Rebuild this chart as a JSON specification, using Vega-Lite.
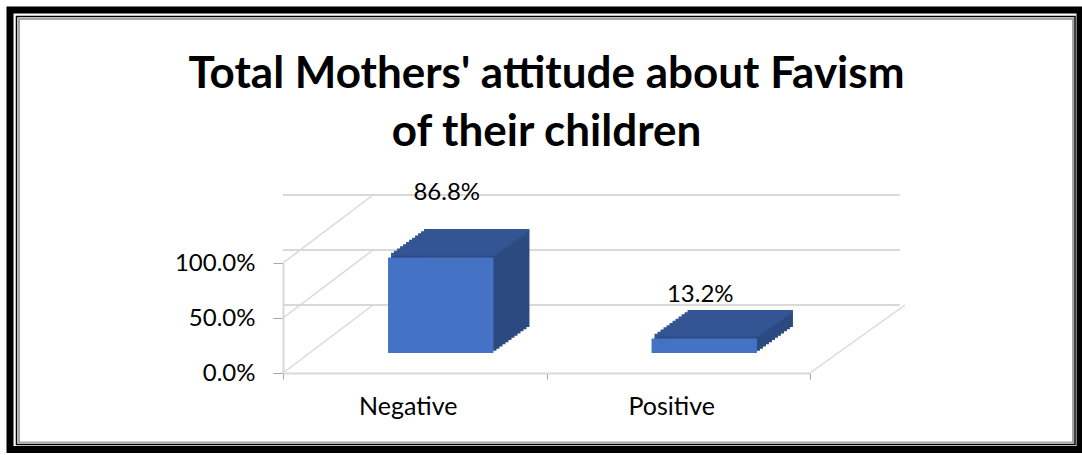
{
  "$schema": "https://vega.github.io/schema/vega-lite/v6.json",
  "width": 527,
  "height": 110,
  "autosize": "none",
  "padding": {"left": 283, "top": 263, "right": 272, "bottom": 82},
  "background": "white",
  "config": {"view": {"stroke": null}, "font": "Lato"},
  "title": {
    "text": ["Total Mothers' attitude about Favism", "of their children"],
    "fontSize": 44,
    "fontWeight": "bold",
    "font": "Lato",
    "color": "black",
    "lineHeight": 58,
    "anchor": "middle",
    "frame": "group",
    "offset": -148
  },
  "datasets": {
    "bars": [
      {"attitude": "Negative", "pct": 0.868},
      {"attitude": "Positive", "pct": 0.132}
    ],
    "ticks": [{"tick": 0}, {"tick": 0.5}, {"tick": 1}],
    "one": [{}]
  },
  "data": {"name": "bars"},
  "resolve": {"scale": {"x": "independent"}, "axis": {"x": "independent"}},
  "layer": [
    {
      "data": {"name": "one"},
      "mark": {"type": "rect", "filled": false, "stroke": "black", "strokeWidth": 7, "xOffset": -273, "x2Offset": 270, "yOffset": 76.5, "y2Offset": -253},
      "encoding": {
        "x": {"datum": 0, "type": "quantitative", "scale": {"domain": [0, 1], "nice": false}, "axis": null},
        "x2": {"datum": 1},
        "y": {"datum": 0, "type": "quantitative", "scale": {"domain": [0, 1], "nice": false}},
        "y2": {"datum": 1}
      }
    },
    {
      "data": {"name": "one"},
      "mark": {"type": "rect", "filled": false, "stroke": "black", "strokeWidth": 1.5, "xOffset": -266.5, "x2Offset": 265, "yOffset": 71.5, "y2Offset": -246.5},
      "encoding": {
        "x": {"datum": 0, "type": "quantitative", "scale": {"domain": [0, 1], "nice": false}, "axis": null},
        "x2": {"datum": 1},
        "y": {"datum": 0, "type": "quantitative"},
        "y2": {"datum": 1}
      }
    },
    {
      "data": {"name": "one"},
      "mark": {"type": "rect", "filled": false, "stroke": "#a6a6a6", "strokeWidth": 2, "xOffset": -264, "x2Offset": 263, "yOffset": 69.5, "y2Offset": -244},
      "encoding": {
        "x": {"datum": 0, "type": "quantitative", "scale": {"domain": [0, 1], "nice": false}, "axis": null},
        "x2": {"datum": 1},
        "y": {"datum": 0, "type": "quantitative"},
        "y2": {"datum": 1}
      }
    },
    {
      "data": {"name": "ticks"},
      "mark": {"type": "rule", "color": "#d9d9d9", "strokeWidth": 2, "xOffset": 90, "x2Offset": 95, "yOffset": -68},
      "encoding": {
        "y": {"field": "tick", "type": "quantitative"}
      }
    },
    {
      "data": {"name": "ticks"},
      "mark": {"type": "rule", "color": "#d9d9d9", "strokeWidth": 1.5, "x2Offset": 90, "y2Offset": -68},
      "encoding": {
        "x": {"datum": 0, "type": "quantitative", "scale": {"domain": [0, 1], "nice": false}, "axis": null},
        "x2": {"datum": 0},
        "y": {"field": "tick", "type": "quantitative"},
        "y2": {"field": "tick"}
      }
    },
    {
      "data": {"name": "one"},
      "mark": {"type": "rule", "color": "#d9d9d9", "strokeWidth": 1.5, "x2Offset": 95, "y2Offset": -68},
      "encoding": {
        "x": {"datum": 1, "type": "quantitative", "scale": {"domain": [0, 1], "nice": false}, "axis": null},
        "x2": {"datum": 1},
        "y": {"datum": 0, "type": "quantitative"},
        "y2": {"datum": 0}
      }
    },
    {
      "layer": [
        {"mark": {"type": "bar", "color": "#2B4A80", "width": {"band": 0.4}, "xOffset": 29, "yOffset": -22.17, "y2Offset": -22.17}},
        {"mark": {"type": "bar", "color": "#2B4A80", "width": {"band": 0.4}, "xOffset": 32, "yOffset": -24.33, "y2Offset": -24.33}},
        {"mark": {"type": "bar", "color": "#2B4A80", "width": {"band": 0.4}, "xOffset": 35, "yOffset": -26.5, "y2Offset": -26.5}},
        {"mark": {"type": "bar", "color": "#2B4A80", "width": {"band": 0.4}, "xOffset": 38, "yOffset": -28.67, "y2Offset": -28.67}},
        {"mark": {"type": "bar", "color": "#2B4A80", "width": {"band": 0.4}, "xOffset": 41, "yOffset": -30.83, "y2Offset": -30.83}},
        {"mark": {"type": "bar", "color": "#2B4A80", "width": {"band": 0.4}, "xOffset": 44, "yOffset": -33, "y2Offset": -33}},
        {"mark": {"type": "bar", "color": "#2B4A80", "width": {"band": 0.4}, "xOffset": 47, "yOffset": -35.17, "y2Offset": -35.17}},
        {"mark": {"type": "bar", "color": "#2B4A80", "width": {"band": 0.4}, "xOffset": 50, "yOffset": -37.33, "y2Offset": -37.33}},
        {"mark": {"type": "bar", "color": "#2B4A80", "width": {"band": 0.4}, "xOffset": 53, "yOffset": -39.5, "y2Offset": -39.5}},
        {"mark": {"type": "bar", "color": "#2B4A80", "width": {"band": 0.4}, "xOffset": 56, "yOffset": -41.67, "y2Offset": -41.67}},
        {"mark": {"type": "bar", "color": "#2B4A80", "width": {"band": 0.4}, "xOffset": 59, "yOffset": -43.83, "y2Offset": -43.83}},
        {"mark": {"type": "bar", "color": "#2B4A80", "width": {"band": 0.4}, "xOffset": 62, "yOffset": -46, "y2Offset": -46}},
        {"mark": {"type": "bar", "color": "#335593", "width": {"band": 0.4}, "xOffset": 29, "yOffset": -24.67, "y2Offset": -21.67}, "encoding": {"y2": {"field": "pct"}}},
        {"mark": {"type": "bar", "color": "#335593", "width": {"band": 0.4}, "xOffset": 32, "yOffset": -26.83, "y2Offset": -23.83}, "encoding": {"y2": {"field": "pct"}}},
        {"mark": {"type": "bar", "color": "#335593", "width": {"band": 0.4}, "xOffset": 35, "yOffset": -29, "y2Offset": -26}, "encoding": {"y2": {"field": "pct"}}},
        {"mark": {"type": "bar", "color": "#335593", "width": {"band": 0.4}, "xOffset": 38, "yOffset": -31.17, "y2Offset": -28.17}, "encoding": {"y2": {"field": "pct"}}},
        {"mark": {"type": "bar", "color": "#335593", "width": {"band": 0.4}, "xOffset": 41, "yOffset": -33.33, "y2Offset": -30.33}, "encoding": {"y2": {"field": "pct"}}},
        {"mark": {"type": "bar", "color": "#335593", "width": {"band": 0.4}, "xOffset": 44, "yOffset": -35.5, "y2Offset": -32.5}, "encoding": {"y2": {"field": "pct"}}},
        {"mark": {"type": "bar", "color": "#335593", "width": {"band": 0.4}, "xOffset": 47, "yOffset": -37.67, "y2Offset": -34.67}, "encoding": {"y2": {"field": "pct"}}},
        {"mark": {"type": "bar", "color": "#335593", "width": {"band": 0.4}, "xOffset": 50, "yOffset": -39.83, "y2Offset": -36.83}, "encoding": {"y2": {"field": "pct"}}},
        {"mark": {"type": "bar", "color": "#335593", "width": {"band": 0.4}, "xOffset": 53, "yOffset": -42, "y2Offset": -39}, "encoding": {"y2": {"field": "pct"}}},
        {"mark": {"type": "bar", "color": "#335593", "width": {"band": 0.4}, "xOffset": 56, "yOffset": -44.17, "y2Offset": -41.17}, "encoding": {"y2": {"field": "pct"}}},
        {"mark": {"type": "bar", "color": "#335593", "width": {"band": 0.4}, "xOffset": 59, "yOffset": -46.33, "y2Offset": -43.33}, "encoding": {"y2": {"field": "pct"}}},
        {"mark": {"type": "bar", "color": "#335593", "width": {"band": 0.4}, "xOffset": 62, "yOffset": -48.5, "y2Offset": -45.5}, "encoding": {"y2": {"field": "pct"}}},
        {
          "mark": {"type": "bar", "color": "#4472C4", "width": {"band": 0.4}, "xOffset": 26, "yOffset": -20, "y2Offset": -20},
          "encoding": {
            "x": {
              "field": "attitude",
              "type": "nominal",
              "sort": null,
              "scale": {"paddingInner": 0, "paddingOuter": 0},
              "axis": {
                "title": null,
                "labelAngle": 0,
                "labelAlign": "center",
                "labelFontSize": 25,
                "labelColor": "black",
                "labelPadding": 27,
                "labelOffset": -7,
                "tickBand": "extent",
                "tickSize": 6,
                "tickColor": "#a6a6a6",
                "domainColor": "#d9d9d9",
                "domainWidth": 2,
                "grid": false
              }
            },
            "y": {
              "field": "pct",
              "type": "quantitative",
              "scale": {"domain": [0, 1], "nice": false},
              "axis": {
                "title": null,
                "values": [0, 0.5, 1],
                "format": ".1%",
                "labelFontSize": 24,
                "labelColor": "black",
                "labelPadding": 18,
                "tickSize": 10,
                "tickColor": "#a6a6a6",
                "domainColor": "#d9d9d9",
                "domainWidth": 2,
                "grid": false
              }
            }
          }
        },
        {
          "transform": [{"filter": "datum.attitude === 'Negative'"}],
          "mark": {"type": "text", "fontSize": 24, "color": "black", "dx": 32, "dy": -84.5},
          "encoding": {"text": {"field": "pct", "type": "quantitative", "format": ".1%"}}
        },
        {
          "transform": [{"filter": "datum.attitude === 'Positive'"}],
          "mark": {"type": "text", "fontSize": 24, "color": "black", "dx": 22, "dy": -63.5},
          "encoding": {"text": {"field": "pct", "type": "quantitative", "format": ".1%"}}
        }
      ],
      "encoding": {
        "x": {"field": "attitude", "type": "nominal", "sort": null, "scale": {"paddingInner": 0, "paddingOuter": 0}},
        "y": {"field": "pct", "type": "quantitative"}
      }
    }
  ]
}
